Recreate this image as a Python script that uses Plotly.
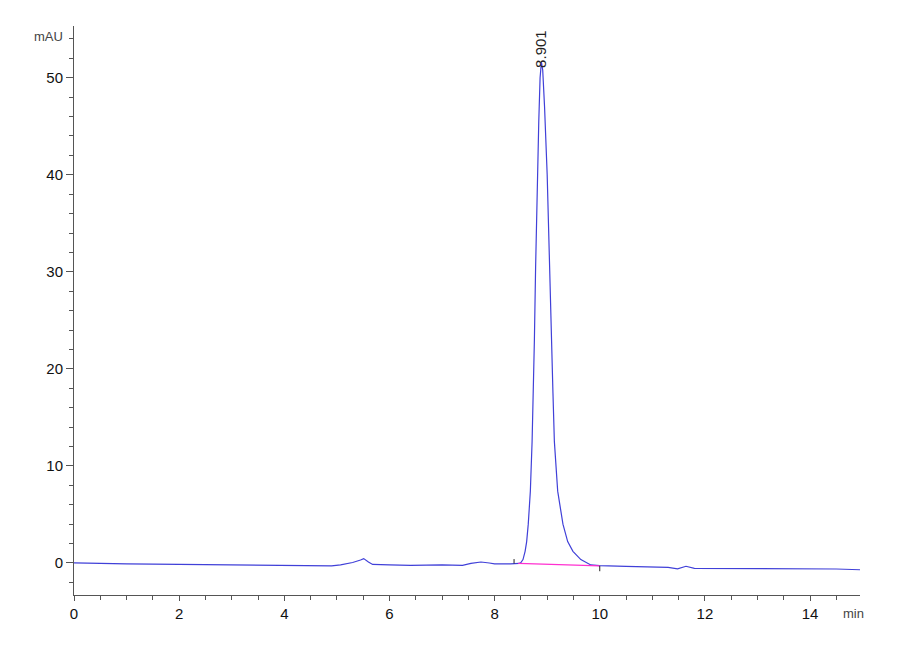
import plotly.graph_objects as go

# chromatogram trace (min, mAU)
time_min = [0.0, 0.3, 1.0, 2.0, 3.0, 3.2, 4.0, 4.5, 4.9, 5.07, 5.3, 5.45, 5.51,
            5.6, 5.68, 6.0, 6.4, 7.0, 7.3, 7.39, 7.55, 7.74, 7.9, 8.0, 8.3,
            8.47, 8.5, 8.54, 8.58, 8.61, 8.64, 8.68, 8.713, 8.738, 8.757, 8.78,
            8.8, 8.84, 8.865, 8.89, 8.915, 8.95, 9.0, 9.04, 9.08, 9.11, 9.137,
            9.2, 9.3, 9.39, 9.49, 9.64, 9.83, 10.0, 10.5, 11.0, 11.3, 11.48,
            11.64, 11.8, 12.0, 13.0, 14.0, 14.5, 14.95]
signal_mau = [0.0, -0.05, -0.1, -0.15, -0.18, -0.25, -0.25, -0.28, -0.3, -0.2,
              0.05, 0.3, 0.45, 0.1, -0.15, -0.2, -0.25, -0.2, -0.2, -0.25,
              -0.05, 0.1, 0.0, -0.1, -0.1,
              -0.05, 0.05, 0.35, 1.2, 2.2, 4.0, 7.4, 12.5, 17.0, 23.0, 30.5,
              37.0, 45.5, 50.0, 51.6, 50.8, 47.0, 40.0, 31.0, 23.0, 17.5, 12.5,
              7.4, 4.0, 2.2, 1.2, 0.35, -0.2, -0.27, -0.35, -0.4, -0.45, -0.6,
              -0.34, -0.55, -0.55, -0.58, -0.6, -0.62, -0.7]

# integration baseline and event marks
baseline_t = [8.45, 10.0]
baseline_y = [-0.05, -0.3]
start_mark_t = [8.37, 8.37]
start_mark_y = [-0.05, 0.4]
end_mark_t = [10.0, 10.0]
end_mark_y = [-0.3, -0.85]

peak_rt = 8.901
peak_label = "8.901"

fig = go.Figure()
fig.add_trace(go.Scatter(x=time_min, y=signal_mau, mode="lines",
                         line=dict(color="#4040d8", width=1.2)))
fig.add_trace(go.Scatter(x=baseline_t, y=baseline_y, mode="lines",
                         line=dict(color="#ff30d0", width=1.2)))
fig.add_trace(go.Scatter(x=start_mark_t, y=start_mark_y, mode="lines",
                         line=dict(color="#222222", width=1)))
fig.add_trace(go.Scatter(x=end_mark_t, y=end_mark_y, mode="lines",
                         line=dict(color="#222222", width=1)))

fig.add_annotation(x=peak_rt - 0.02, y=50.8, text=peak_label, showarrow=False,
                   textangle=-90, xanchor="center", yanchor="bottom",
                   font=dict(size=15, color="#222222"))
fig.add_annotation(xref="paper", yref="paper", x=-0.011, y=0.982, text="mAU",
                   showarrow=False, xanchor="right", yanchor="middle",
                   font=dict(size=13, color="#444444"))
fig.add_annotation(xref="paper", yref="paper", x=0.976, y=-0.033, text="min",
                   showarrow=False, xanchor="left", yanchor="middle",
                   font=dict(size=13, color="#444444"))

axis_common = dict(showgrid=False, zeroline=False, showline=True,
                   linecolor="#555555", linewidth=1, ticks="outside",
                   tickcolor="#555555", tickfont=dict(size=15, color="#111111"))

fig.update_xaxes(range=[0, 14.95], dtick=2, tick0=0, ticklen=5,
                 minor=dict(dtick=0.5, ticklen=4, ticks="outside", tickcolor="#555555"),
                 **axis_common)
fig.update_yaxes(range=[-3.3, 55.33], dtick=10, tick0=0, ticklen=7,
                 minor=dict(dtick=2, ticklen=4, ticks="outside", tickcolor="#555555"),
                 **axis_common)

# page body margin shifts the figure ~7px, so margins are offset accordingly
fig.update_layout(width=900, height=660, showlegend=False,
                  margin=dict(l=66, r=48, t=18, b=73),
                  paper_bgcolor="white", plot_bgcolor="white",
                  font=dict(family="Liberation Sans, Arial, sans-serif"))

fig.write_html("out.html")
